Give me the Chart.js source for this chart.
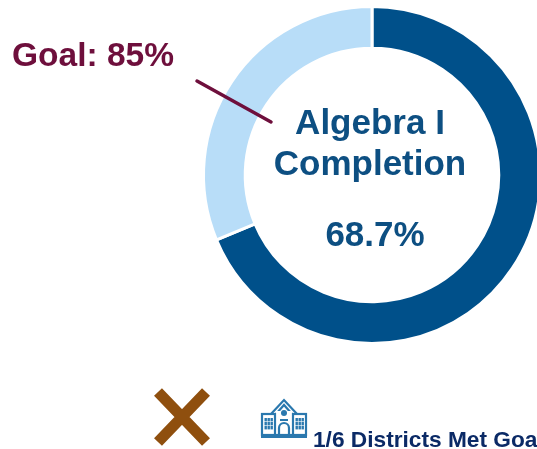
<!DOCTYPE html>
<html>
<head>
<meta charset="utf-8">
<style>
html,body{margin:0;padding:0;background:#fff;overflow:hidden}
#w{position:relative;width:537px;height:449px;overflow:hidden}
</style>
<script src="https://cdn.jsdelivr.net/npm/chart.js@4/dist/chart.umd.min.js"></script>
</head>
<body>
<div id="w"><canvas id="c" width="537" height="449"></canvas></div>
<script>
const categories = ["Completed", "Not completed"];
const values = [68.7, 31.3];
const segmentColors = ["#00508A", "#B8DDF8"];
const centerTitle = ["Algebra I", "Completion"];
const centerValue = "68.7%";
const goalLabel = "Goal: 85%";
const districtsLabel = "1/6 Districts Met Goal";

const F = "'Liberation Sans', Arial, sans-serif";

function drawSchool(ctx, x, y) {
  ctx.save();
  ctx.translate(x, y);
  ctx.strokeStyle = "#2A78AE";
  ctx.fillStyle = "#2A78AE";
  ctx.lineWidth = 2.2;
  ctx.lineJoin = "miter";
  // roof of centre block
  ctx.beginPath();
  ctx.moveTo(10, 15); ctx.lineTo(23, 1); ctx.lineTo(36, 15);
  ctx.moveTo(15, 15); ctx.lineTo(23, 6); ctx.lineTo(31, 15);
  ctx.stroke();
  // walls
  ctx.strokeRect(1, 15, 44, 21);
  ctx.clearRect(15, 12, 16, 6);
  ctx.beginPath();
  ctx.moveTo(14, 14); ctx.lineTo(14, 36);
  ctx.moveTo(32, 14); ctx.lineTo(32, 36);
  ctx.stroke();
  ctx.fillRect(0, 36, 46, 3);
  // windows
  [3.5, 34.5].forEach(wx => {
    for (let i = 0; i < 3; i++) for (let j = 0; j < 3; j++) {
      ctx.fillRect(wx + i * 3, 19 + j * 4, 2.4, 3.4);
    }
  });
  // clock and door
  ctx.beginPath(); ctx.arc(23, 14, 3, 0, Math.PI * 2); ctx.fill();
  ctx.fillRect(19, 20, 8, 2);
  ctx.beginPath();
  ctx.moveTo(18, 36); ctx.lineTo(18, 29); ctx.arc(23, 29, 5, Math.PI, 0); ctx.lineTo(28, 36);
  ctx.stroke();
  ctx.restore();
}

const overlay = {
  id: "overlay",
  afterDraw(chart) {
    const ctx = chart.ctx;
    ctx.save();
    ctx.textBaseline = "alphabetic";

    // goal marker
    ctx.strokeStyle = "#6E0F3C";
    ctx.lineWidth = 3.5;
    ctx.lineCap = "round";
    ctx.beginPath(); ctx.moveTo(197, 81); ctx.lineTo(271, 122); ctx.stroke();

    ctx.textAlign = "left";
    ctx.fillStyle = "#6E0F3C";
    ctx.font = "bold 33.5px " + F;
    ctx.fillText(goalLabel, 12, 66);

    // centre text
    ctx.textAlign = "center";
    ctx.fillStyle = "#0D4F82";
    ctx.font = "bold 35px " + F;
    ctx.fillText(centerTitle[0], 370, 134);
    ctx.fillText(centerTitle[1], 370, 175);
    ctx.fillText(centerValue, 375, 246);

    // X mark
    ctx.strokeStyle = "#8F4F0E";
    ctx.lineWidth = 11;
    ctx.lineCap = "butt";
    ctx.beginPath();
    ctx.moveTo(158, 392); ctx.lineTo(206, 442);
    ctx.moveTo(206, 392); ctx.lineTo(158, 442);
    ctx.stroke();

    drawSchool(ctx, 261, 399);

    ctx.textAlign = "left";
    ctx.fillStyle = "#0B2A66";
    ctx.font = "bold 22.7px " + F;
    ctx.fillText(districtsLabel, 313, 447);
    ctx.restore();
  }
};

new Chart(document.getElementById("c"), {
  type: "doughnut",
  data: {
    labels: categories,
    datasets: [{
      data: values,
      backgroundColor: segmentColors,
      borderColor: "#ffffff",
      borderWidth: 3,
      hoverOffset: 0
    }]
  },
  options: {
    responsive: false,
    animation: false,
    radius: 168.5,
    cutout: 123,
    layout: { padding: { left: 207, right: 0, top: 0, bottom: 99 } },
    plugins: { legend: { display: false }, tooltip: { enabled: false } }
  },
  plugins: [overlay]
});
</script>
</body>
</html>
